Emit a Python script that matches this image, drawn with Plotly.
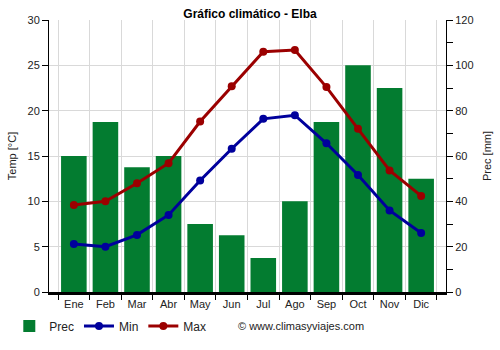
import plotly.graph_objects as go

months = ["Ene", "Feb", "Mar", "Abr", "May", "Jun", "Jul", "Ago", "Sep", "Oct", "Nov", "Dic"]
prec = [60, 75, 55, 60, 30, 25, 15, 40, 75, 100, 90, 50]
t_min = [5.3, 5.0, 6.3, 8.5, 12.3, 15.8, 19.1, 19.5, 16.4, 12.9, 9.0, 6.5]
t_max = [9.6, 10.0, 12.0, 14.2, 18.8, 22.7, 26.5, 26.7, 22.6, 18.0, 13.4, 10.6]

green = "#037c30"
blue = "#00009c"
red = "#9b0000"
font = "Liberation Sans, Arial, sans-serif"

fig = go.Figure()
fig.add_trace(go.Bar(x=months, y=prec, name="Prec", marker_color=green,
                     marker_line_width=0, yaxis="y"))
fig.add_trace(go.Scatter(x=months, y=t_min, name="Min", mode="lines+markers",
                         line=dict(color=blue, width=3), marker=dict(size=8, color=blue),
                         yaxis="y2"))
fig.add_trace(go.Scatter(x=months, y=t_max, name="Max", mode="lines+markers",
                         line=dict(color=red, width=3), marker=dict(size=8, color=red),
                         yaxis="y2"))

fig.update_layout(
    width=500, height=350,
    margin=dict(l=49, r=54, t=20, b=58, autoexpand=False),
    paper_bgcolor="white", plot_bgcolor="white",
    font=dict(family=font, size=11, color="#222"),
    bargap=0.19,
    showlegend=True,
    legend=dict(orientation="h", x=-0.1, y=-0.125, xanchor="left", yanchor="middle",
                font=dict(size=12, color="#222"), tracegroupgap=0),
    title=dict(text="<b>Gráfico climático - Elba</b>", x=0.5, xanchor="center",
               y=0.972, yanchor="top", font=dict(size=12, color="#000")),
    xaxis=dict(showgrid=True, gridcolor="#d9d9d9", tickson="boundaries",
               ticks="outside", ticklen=5, tickcolor="#000", tickangle=0,
               showline=True, linecolor="#000", linewidth=3, automargin=False,
               tickfont=dict(size=11, color="#222")),
    yaxis=dict(side="right", range=[0, 120], dtick=20, ticks="outside", ticklen=6,
               tickcolor="#000", showline=True, linecolor="#000", linewidth=1,
               showgrid=True, gridcolor="#d9d9d9", zeroline=False, automargin=False,
               minor=dict(dtick=10, ticks="outside", ticklen=6, tickcolor="#000", showgrid=False),
               title=dict(text="Prec [mm]", font=dict(size=11, color="#222"), standoff=10),
               tickfont=dict(size=11, color="#222")),
    yaxis2=dict(side="left", overlaying="y", range=[0, 30], dtick=5, ticks="outside",
                ticklen=6, tickcolor="#000", showline=True, linecolor="#000", linewidth=1,
                showgrid=False, zeroline=False, automargin=False,
                title=dict(text="Temp [°C]", font=dict(size=11, color="#222"), standoff=8),
                tickfont=dict(size=11, color="#222")),
    annotations=[dict(text="© www.climasyviajes.com", xref="paper", yref="paper",
                      x=0.47, y=-0.125, xanchor="left", yanchor="middle", showarrow=False,
                      font=dict(size=11, color="#222"))],
)

fig.write_html("out.html")
